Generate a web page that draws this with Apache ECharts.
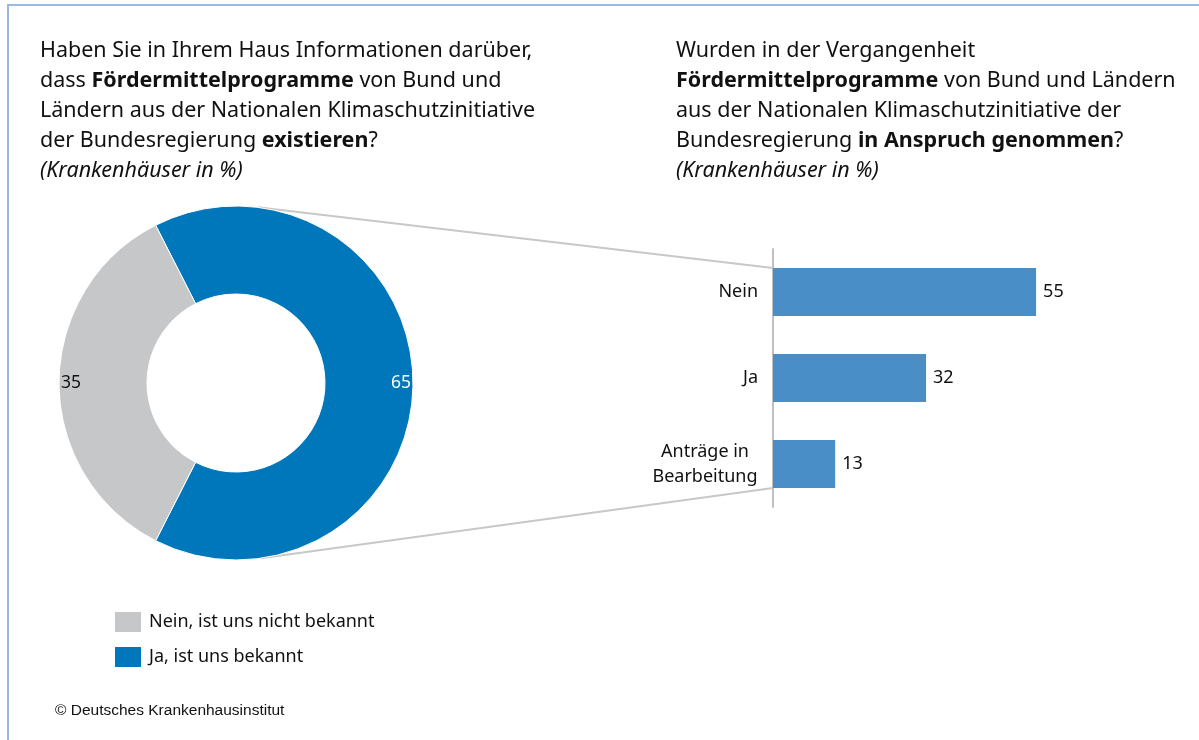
<!DOCTYPE html>
<html>
<head>
<meta charset="utf-8">
<script src="https://cdn.jsdelivr.net/npm/echarts@6/dist/echarts.min.js"></script>
<style>
  html, body { margin: 0; padding: 0; background: #fff; }
  #main { width: 1199px; height: 740px; }
</style>
</head>
<body>
<div id="main"></div>
<script>
// donut: do hospitals know about the funding programmes
const pieNames = ['Ja, ist uns bekannt', 'Nein, ist uns nicht bekannt'];
const pieValues = [65, 35];
const legendOrder = ['Nein, ist uns nicht bekannt', 'Ja, ist uns bekannt'];

// bars: have they used them
const barCategories = ['Nein', 'Ja', 'Anträge in\nBearbeitung'];
const barValues = [55, 32, 13];

const FONT = 'Noto Sans';
const BLUE = '#0077bb';
const GREY = '#c6c7c9';
const BAR_BLUE = '#4a8ec8';
const LINK = '#c8c8c8';

const pieCenter = [236, 383];
const pieRadius = [89, 177];
const barWidth = 48;

const titleRich = {
  b: { fontFamily: FONT, fontSize: 21.5, fontWeight: 'bold', color: '#111', lineHeight: 30 },
  i: { fontFamily: FONT, fontSize: 21.5, fontStyle: 'italic', color: '#111', lineHeight: 30 }
};
const titleStyle = { fontFamily: FONT, fontSize: 21.5, fontWeight: 'normal', color: '#111', lineHeight: 30, rich: titleRich };

let chart = echarts.init(document.getElementById('main'));

let option = {
  animation: false,
  backgroundColor: '#fff',
  title: [
    {
      left: 40, top: 36, padding: 0,
      text: 'Haben Sie in Ihrem Haus Informationen darüber,\n' +
            'dass {b|Fördermittelprogramme} von Bund und\n' +
            'Ländern aus der Nationalen Klimaschutzinitiative\n' +
            'der Bundesregierung {b|existieren}?\n' +
            '{i|(Krankenhäuser in %)}',
      textStyle: titleStyle
    },
    {
      left: 676, top: 36, padding: 0,
      text: 'Wurden in der Vergangenheit\n' +
            '{b|Fördermittelprogramme} von Bund und Ländern\n' +
            'aus der Nationalen Klimaschutzinitiative der\n' +
            'Bundesregierung {b|in Anspruch genommen}?\n' +
            '{i|(Krankenhäuser in %)}',
      textStyle: titleStyle
    }
  ],
  legend: {
    orient: 'vertical',
    left: 113, top: 610, padding: 0,
    itemWidth: 28, itemHeight: 22, itemGap: 11,
    icon: 'rect',
    data: legendOrder,
    textStyle: { fontFamily: FONT, fontSize: 18, color: '#111', padding: [0, 0, 0, 2] }
  },
  grid: { left: 773, top: 249, height: 258, width: 287 },
  xAxis: { type: 'value', min: 0, max: 60, show: false },
  yAxis: {
    type: 'category',
    inverse: true,
    data: barCategories,
    axisLine: { lineStyle: { color: '#c0c0c0', width: 2 } },
    axisTick: { show: false },
    axisLabel: {
      margin: 15,
      fontFamily: FONT, fontSize: 18, color: '#111', lineHeight: 25,
      formatter: function(v) {
        return v.indexOf('\n') >= 0 ? v.split('\n').map(s => '{c|' + s + '}').join('\n') : v;
      },
      rich: { c: { fontFamily: FONT, fontSize: 18, color: '#111', lineHeight: 25, width: 106, align: 'center' } }
    },
    splitLine: { show: false }
  },
  series: [
    {
      type: 'pie',
      center: pieCenter,
      radius: pieRadius,
      startAngle: 117,
      clockwise: true,
      avoidLabelOverlap: false,
      itemStyle: { borderColor: '#fff', borderWidth: 1 },
      labelLine: { show: false },
      emphasis: { disabled: true },
      data: pieNames.map((n, i) => ({
        name: n,
        value: pieValues[i],
        itemStyle: { color: i === 0 ? BLUE : GREY },
        label: {
          show: true, position: 'inside', formatter: '{c}',
          fontFamily: FONT, fontSize: 17.5,
          color: i === 0 ? '#fff' : '#111',
          offset: [i === 0 ? 29 : -29, 0]
        }
      }))
    },
    {
      type: 'bar',
      data: barValues,
      barWidth: barWidth,
      itemStyle: { color: BAR_BLUE },
      label: { show: true, position: 'right', distance: 7, fontFamily: FONT, fontSize: 18, color: '#111' },
      emphasis: { disabled: true }
    }
  ]
};

chart.setOption(option);

// connector lines from the donut to the bar block, plus the frame and the source note
let x0 = chart.convertToPixel({ xAxisIndex: 0 }, 0);
let yTop = chart.convertToPixel({ yAxisIndex: 0 }, 0) - barWidth / 2;
let yBot = chart.convertToPixel({ yAxisIndex: 0 }, barCategories.length - 1) + barWidth / 2;
let a1 = 83 * Math.PI / 180, a2 = -82 * Math.PI / 180;
let p1 = [pieCenter[0] + pieRadius[1] * Math.cos(a1), pieCenter[1] - pieRadius[1] * Math.sin(a1)];
let p2 = [pieCenter[0] + pieRadius[1] * Math.cos(a2), pieCenter[1] - pieRadius[1] * Math.sin(a2)];

chart.setOption({
  graphic: [
    { type: 'line', z: -1, shape: { x1: p1[0], y1: p1[1], x2: x0, y2: yTop }, style: { stroke: LINK, lineWidth: 2 } },
    { type: 'line', z: -1, shape: { x1: p2[0], y1: p2[1], x2: x0, y2: yBot }, style: { stroke: LINK, lineWidth: 2 } },
    { type: 'polyline', shape: { points: [[8, 740], [8, 5], [1199, 5]] }, style: { stroke: '#9db8e0', lineWidth: 2, fill: null } },
    { type: 'text', left: 55, top: 703, style: { text: '© Deutsches Krankenhausinstitut', font: '15.5px "Liberation Sans"', fill: '#111' } }
  ]
});
</script>
</body>
</html>
